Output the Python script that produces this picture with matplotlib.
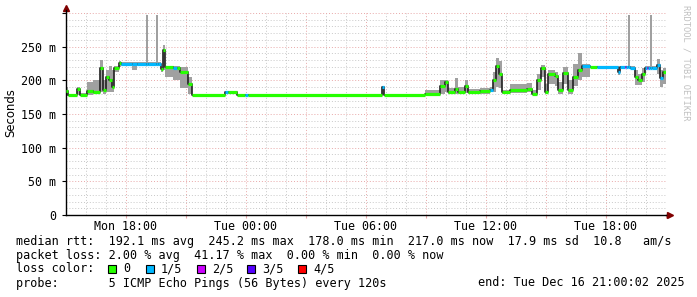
import matplotlib
matplotlib.use("Agg")
import matplotlib.pyplot as plt
import matplotlib.dates as mdates
from matplotlib.patches import Rectangle
from matplotlib.ticker import MultipleLocator, FuncFormatter
import pandas as pd

# window: Mon 15:00 -> Tue 21:00 (minutes from start)
window_start = pd.Timestamp("2025-12-15 15:00:02")
window_len_min = 1800

# segments: start minute, median rtt (ms), smoke low/high (ms), lost pings of 5
seg_start = [0, 6, 33, 42, 63, 81, 102, 111, 120, 129, 138, 144, 159, 165, 198, 213, 240, 246,
             270, 276, 285, 291, 297, 321, 333, 342, 366, 378, 477, 486, 513, 537, 546, 948,
             954, 1077, 1122, 1137, 1146, 1167, 1176, 1197, 1206, 1242, 1272, 1281, 1290, 1299,
             1308, 1332, 1383, 1398, 1413, 1425, 1437, 1446, 1467, 1476, 1491, 1506, 1521, 1536,
             1548, 1572, 1593, 1656, 1662, 1677, 1680, 1686, 1692, 1707, 1716, 1728, 1737, 1743,
             1746, 1752, 1758, 1773, 1782, 1791]
seg_median = [184, 178, 187, 178, 184, 183, 219, 186, 205, 200, 190, 219, 226, 225, 225, 225, 225, 225,
              225, 225, 217, 245, 220, 219, 219, 213, 195, 178, 182, 182, 178, 178, 178, 190,
              178, 180, 191, 197, 182, 187, 183, 191, 182, 184, 185, 200, 222, 210,
              183, 185, 187, 180, 200, 219, 183, 210, 206, 186, 211, 186, 205, 215,
              221, 220, 220, 213, 220, 220, 220, 220, 219, 205, 200, 210, 219, 219,
              219, 219, 219, 223, 203, 212]
seg_low = [177, 176, 178, 176, 178, 179, 182, 180, 183, 183, 183, 212, 220, 221, 215, 221, 221, 221,
           221, 221, 212, 215, 205, 200, 200, 188, 180, 177, 180, 180, 177, 177, 177, 178,
           177, 178, 180, 182, 179, 180, 179, 181, 179, 180, 182, 183, 190, 188,
           180, 181, 182, 178, 185, 205, 180, 195, 192, 180, 195, 180, 192, 200,
           205, 218, 218, 208, 218, 218, 218, 218, 217, 193, 193, 198, 217, 217,
           217, 217, 217, 210, 190, 195]
seg_high = [190, 180, 190, 181, 197, 200, 230, 200, 215, 222, 215, 222, 228, 227, 227, 227, 297, 227,
            297, 227, 220, 253, 222, 221, 221, 220, 205, 179, 183, 183, 179, 179, 179, 192,
            179, 186, 201, 201, 188, 204, 190, 201, 187, 188, 190, 212, 233, 228,
            186, 195, 196, 185, 210, 223, 195, 216, 212, 198, 220, 200, 225, 241,
            224, 222, 222, 220, 222, 222, 222, 297, 221, 215, 210, 218, 221, 221,
            221, 297, 221, 231, 215, 218]
seg_loss = [0, 0, 0, 0, 0, 0, 0, 0, 0, 0, 0, 0, 0, 1, 1, 1, 1, 1,
            1, 1, 0, 0, 0, 1, 0, 0, 0, 0, 1, 0, 0, 1, 0, 1,
            0, 0, 0, 0, 0, 0, 0, 0, 0, 0, 1, 0, 0, 0,
            0, 0, 0, 0, 0, 0, 0, 0, 0, 0, 0, 0, 0, 0,
            1, 0, 1, 1, 1, 2, 1, 1, 1, 0, 0, 0, 1, 2,
            1, 1, 1, 1, 1, 0]

loss_colors = ["#26ff00", "#00b8ff", "#cc00ff", "#5500ff", "#ff0000"]
loss_labels = ["0", "1/5", "2/5", "3/5", "4/5"]

W, H = 697, 297
fig = plt.figure(figsize=(W / 100, H / 100), dpi=100)
fig.patch.set_facecolor("white")

def fx(x):
    return x / W

def fy(y):
    return 1 - y / H

left, right, top, bottom = 66, 666, 13, 215
ax = fig.add_axes([fx(left), fy(bottom), (right - left) / W, (bottom - top) / H])

t0 = [window_start + pd.Timedelta(minutes=m) for m in seg_start]
t1 = t0[1:] + [window_start + pd.Timedelta(minutes=window_len_min)]
edges = mdates.date2num(t0 + [t1[-1]])

# smoke
ax.fill_between(edges, seg_low + [seg_low[-1]], seg_high + [seg_high[-1]],
                step="post", color="#a0a0a0", lw=0, zorder=2)
# median connectors
ax.step(edges, seg_median + [seg_median[-1]], where="post", color="#202020", lw=1.2, zorder=3)
# median coloured by loss
for a, b, m, l in zip(t0, t1, seg_median, seg_loss):
    ax.hlines(m, mdates.date2num(a), mdates.date2num(b), color=loss_colors[l], lw=2.3, zorder=4)

ax.set_xlim(edges[0], edges[-1])
ax.set_ylim(0, 300)

mono = "DejaVu Sans Mono"
ax.xaxis.set_major_locator(mdates.HourLocator(byhour=range(0, 24, 3)))
ax.xaxis.set_minor_locator(mdates.HourLocator())
ax.xaxis.set_major_formatter(FuncFormatter(
    lambda v, p: mdates.num2date(v).strftime("%a %H:%M") if mdates.num2date(v).hour % 6 == 0 else ""))
ax.yaxis.set_major_locator(MultipleLocator(50))
ax.yaxis.set_minor_locator(MultipleLocator(10))
ax.yaxis.set_major_formatter(FuncFormatter(
    lambda v, p: "0" if v == 0 else ("" if v >= 300 else f"{v:.0f} m")))

ax.grid(which="minor", color="#c8c8c8", ls=(0, (1, 2)), lw=0.7)
ax.grid(which="major", color="#e8a8a8", ls=(0, (1, 2)), lw=0.7)
ax.set_axisbelow(True)

ax.tick_params(which="both", labelsize=8.4, length=0)
ax.tick_params(axis="y", which="major", length=3, color="black", pad=4)
ax.tick_params(axis="x", which="major", length=2, color="#e8a8a8", pad=1.5)
for lab in ax.get_xticklabels() + ax.get_yticklabels():
    lab.set_family(mono)

for s in ["top", "right"]:
    ax.spines[s].set_visible(False)
ax.spines["left"].set_linewidth(1)
ax.spines["bottom"].set_linewidth(1)
ax.spines["left"].set_bounds(0, 304)

# axis arrows
ax.plot([1.0, 1.005], [0, 0], transform=ax.transAxes, color="black", lw=1, clip_on=False)
ax.plot([1.007], [0], transform=ax.transAxes, marker=">", color="#800000", ms=4, clip_on=False)
ax.plot([0], [1.025], transform=ax.transAxes, marker="^", color="#800000", ms=4, clip_on=False)

fig.text(fx(11), fy(113), "Seconds", rotation=90, ha="center", va="center", fontsize=8.4)
fig.text(fx(686), fy(5), "RRDTOOL / TOBI OETIKER", rotation=270, ha="center", va="top",
         fontsize=6.3, family=mono, color="#c0c0c0")

fs = 8.5
fig.text(fx(16), fy(241), "median rtt:  192.1 ms avg  245.2 ms max  178.0 ms min  217.0 ms now  17.9 ms sd  10.8   am/s",
         fontsize=fs, family=mono, va="center")
fig.text(fx(16), fy(255), "packet loss: 2.00 % avg  41.17 % max  0.00 % min  0.00 % now",
         fontsize=fs, family=mono, va="center")
fig.text(fx(16), fy(269), "loss color:", fontsize=fs, family=mono, va="center")
box_x = [108, 146, 197, 247, 298]
for bx, c, lab in zip(box_x, loss_colors, loss_labels):
    fig.patches.append(Rectangle((fx(bx), fy(273)), 8 / W, 8 / H, transform=fig.transFigure,
                                 facecolor=c, edgecolor="black", lw=0.8))
    fig.text(fx(bx + 15), fy(269), lab, fontsize=fs, family=mono, va="center")
fig.text(fx(16), fy(283), "probe:       5 ICMP Echo Pings (56 Bytes) every 120s",
         fontsize=fs, family=mono, va="center")
fig.text(fx(478), fy(283), "end: Tue Dec 16 21:00:02 2025", fontsize=fs, family=mono, va="center")

fig.savefig("out.png", dpi=100, facecolor="white")
